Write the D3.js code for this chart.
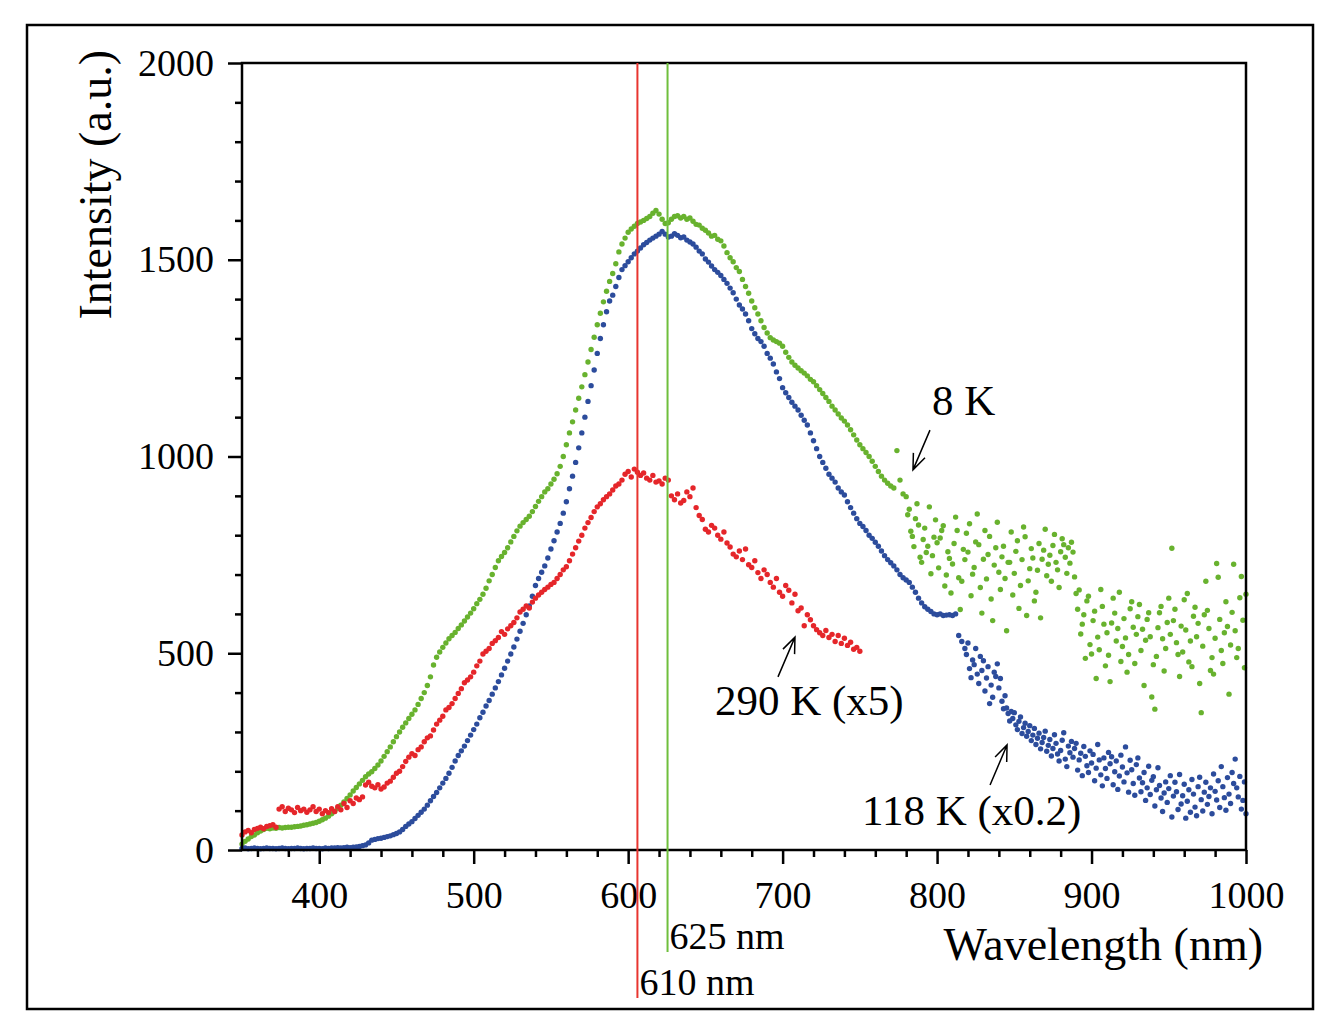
<!DOCTYPE html>
<html>
<head>
<meta charset="utf-8">
<script src="https://cdn.jsdelivr.net/npm/d3@7"></script>
<style>
  body { margin: 0; background: #fff; }
  svg { display: block; }
</style>
</head>
<body>
<div id="chart"></div>
<script>
// Photoluminescence spectra (intensity in a.u.)
// 8 K, smooth part: 350..780 nm every 2 nm
const green8KStart = 350, green8KStep = 2;
const green8K = [
  15, 22, 28, 34, 38, 44, 48, 52, 55, 54,
  56, 55, 57, 56, 57, 58, 58, 59, 60, 61,
  63, 64, 66, 68, 70, 73, 77, 81, 86, 92,
  98, 106, 114, 122, 131, 140, 150, 159, 168, 177,
  186, 193, 199, 207, 216, 226, 238, 250, 262, 275,
  288, 300, 312, 323, 334, 345, 356, 370, 385, 400,
  418, 440, 470, 490, 503, 515, 526, 537, 545, 553,
  563, 572, 582, 592, 602, 613, 626, 637, 650, 665,
  684, 700, 718, 735, 746, 756, 768, 783, 797, 811,
  823, 832, 840, 848, 860, 873, 886, 898, 910, 918,
  930, 942, 956, 975, 1000, 1030, 1060, 1088, 1118, 1148,
  1177, 1208, 1240, 1272, 1303, 1335, 1364, 1393, 1420, 1445,
  1465, 1490, 1520, 1540, 1555, 1570, 1578, 1585, 1592, 1596,
  1600, 1605, 1610, 1618, 1625, 1616, 1603, 1592, 1594, 1603,
  1610, 1612, 1606, 1610, 1603, 1606, 1598, 1590, 1588, 1580,
  1575, 1568, 1560, 1562, 1552, 1548, 1535, 1518, 1505, 1495,
  1480, 1470, 1450, 1432, 1415, 1395, 1378, 1362, 1345, 1328,
  1314, 1302, 1296, 1292, 1288, 1280, 1265, 1252, 1240, 1232,
  1225, 1218, 1212, 1205, 1196, 1190, 1180, 1170, 1160, 1150,
  1140, 1128, 1118, 1108, 1098, 1090, 1080, 1068, 1055, 1042,
  1030, 1020, 1010, 1000, 988, 975, 962, 950, 940, 932,
  925, 920, 1015, 940, 905, 898
];
// 8 K, noisy tail: 781..1000 nm every 1 nm
const green8KTailStart = 781, green8KTailStep = 1;
const green8KTail = [
  852, 866, 810, 797, 771, 842, 880, 826, 744, 731,
  789, 818, 756, 772, 872, 702, 748, 795, 839, 781,
  717, 793, 812, 824, 671, 699, 758, 741, 653, 727,
  779, 846, 812, 692, 611, 683, 764, 738, 805, 757,
  829, 646, 701, 718, 783, 854, 776, 667, 602, 739,
  812, 689, 751, 797, 638, 583, 724, 768, 833, 706,
  662, 745, 772, 690, 557, 731, 731, 808, 648, 703,
  759, 786, 614, 672, 738, 821, 796, 596, 684, 715,
  766, 742, 633, 655, 711, 779, 590, 739, 762, 815,
  697, 726, 749, 683, 774, 802, 731, 712, 667, 758,
  791, 776, 744, 703, 768, 729, 782, 757, 694, 652,
  612, 661, 549, 574, 598, 487, 633, 645, 522, 498,
  583, 607, 436, 541, 509, 662, 619, 574, 468, 552,
  495, 428, 577, 640, 602, 531, 563, 655, 479, 517,
  588, 539, 452, 497, 613, 631, 566, 474, 548, 593,
  624, 507, 561, 418, 533, 586, 603, 542, 389, 471,
  358, 492, 565, 603, 619, 537, 455, 512, 578, 640,
  548, 767, 583, 612, 527, 497, 441, 569, 503, 636,
  559, 652, 478, 531, 466, 594, 617, 542, 576, 423,
  349, 518, 598, 683, 609, 563, 456, 489, 447, 538,
  728, 693, 586, 507, 474, 552, 631, 568, 396, 521,
  604, 726, 557, 489, 512, 641, 695, 584, 463, 650
];

// 118 K (x0.2), smooth part: 350..818 nm every 2 nm
const blue118KStart = 350, blue118KStep = 2;
const blue118K = [
  4, 5, 3, 4, 5, 4, 3, 4, 5, 4,
  4, 3, 4, 5, 4, 3, 4, 4, 5, 4,
  3, 4, 4, 5, 4, 4, 3, 5, 4, 5,
  5, 6, 5, 6, 7, 6, 7, 8, 9, 11,
  13, 18, 25, 27, 29, 30, 32, 34, 36, 39,
  42, 46, 52, 60, 66, 72, 80, 88, 96, 104,
  114, 125, 136, 146, 158, 170, 182, 195, 210, 226,
  240, 252, 264, 278, 292, 306, 320, 336, 350, 366,
  380, 396, 412, 428, 445, 462, 480, 498, 516, 536,
  556, 576, 598, 620, 645, 672, 690, 706, 722, 742,
  765, 786, 808, 830, 856, 885, 918, 950, 985, 1022,
  1060, 1100, 1140, 1180, 1220, 1262, 1300, 1335, 1368, 1395,
  1410, 1432, 1455, 1475, 1485, 1495, 1505, 1515, 1522, 1530,
  1538, 1544, 1550, 1555, 1560, 1565, 1572, 1565, 1558, 1560,
  1566, 1562, 1556, 1558, 1550, 1545, 1540, 1532, 1522, 1515,
  1502, 1494, 1484, 1475, 1468, 1460, 1450, 1440, 1428, 1416,
  1400, 1385, 1375, 1362, 1345, 1325, 1312, 1300, 1292, 1280,
  1262, 1250, 1235, 1215, 1198, 1175, 1162, 1150, 1138, 1128,
  1118, 1105, 1092, 1080, 1060, 1040, 1020, 1000, 985, 970,
  955, 945, 935, 920, 910, 902, 885, 870, 856, 842,
  830, 822, 812, 800, 792, 782, 772, 760, 748, 738,
  730, 722, 712, 700, 692, 686, 680, 668, 655, 640,
  628, 618, 612, 606, 600, 598, 600, 596, 597, 598,
  596, 600, 545, 530, 512
];
// 118 K (x0.2), noisy tail: 819..1000 nm every 1 nm
const blue118KTailStart = 819, blue118KTailStep = 1;
const blue118KTail = [
  497, 526, 461, 438, 483, 471, 512, 447, 423, 492,
  456, 481, 404, 437, 466, 372, 419, 388, 452, 441,
  473, 412, 436, 378, 359, 392, 361, 347, 328, 352,
  334, 349, 318, 306, 327, 338, 296, 311, 322, 289,
  301, 316, 278, 292, 309, 268, 284, 297, 257, 273,
  286, 302, 251, 266, 281, 239, 258, 293, 271, 244,
  226, 253, 279, 298, 231, 212, 264, 247, 276, 236,
  258, 271, 203, 229, 246, 189, 263, 238, 214, 197,
  252, 221, 243, 176, 208, 268, 229, 191, 163, 234,
  207, 182, 248, 219, 237, 166, 199, 226, 154, 188,
  241, 211, 173, 262, 196, 147, 228, 204, 169, 139,
  217, 234, 183, 148, 171, 197, 126, 158, 213, 141,
  177, 186, 112, 153, 209, 164, 132, 98, 145, 173,
  121, 156, 189, 84, 137, 172, 148, 103, 192, 117,
  138, 167, 81, 124, 153, 96, 179, 142, 109, 87,
  161, 185, 128, 99, 147, 172, 116, 136, 158, 92,
  193, 149, 127, 176, 108, 212, 161, 133, 101, 184,
  142, 118, 197, 169, 231, 158, 135, 187, 104, 126,
  173, 92
];

// 290 K (x5): 350..750 nm every 2 nm
const red290KStart = 350, red290KStep = 2;
const red290K = [
  38, 46, 50, 44, 52, 55, 58, 54, 60, 62,
  64, 58, 104, 110, 98, 106, 102, 95, 108, 100,
  104, 96, 102, 110, 98, 104, 92, 100, 95, 105,
  98, 110, 102, 118, 108, 125, 118, 132, 128, 135,
  165, 172, 162, 158, 166, 155, 160, 170, 175, 185,
  195, 200, 212, 225, 236, 245, 240, 255, 262, 275,
  285, 290, 305, 320, 330, 340, 356, 362, 372, 385,
  398, 410, 425, 432, 440, 452, 468, 480, 498, 505,
  512, 525, 532, 540, 555, 548, 562, 570, 578, 590,
  605, 612, 620, 615, 630, 640, 648, 655, 662, 668,
  675, 680, 690, 700, 712, 720, 735, 752, 768, 785,
  800, 818, 832, 845, 860, 872, 880, 890, 898, 905,
  915, 925, 930, 940, 955, 962, 948, 968, 960, 952,
  958, 945, 940, 952, 935, 938, 930, 945, 940, 900,
  890, 905, 882, 888, 910, 898, 920, 870, 850, 840,
  815, 808, 825, 818, 800, 790, 808, 780, 770, 752,
  745, 760, 738, 765, 725, 718, 735, 705, 690, 712,
  700, 680, 668, 690, 655, 645, 672, 660, 628, 650,
  608, 615, 570, 598, 585, 570, 560, 552, 545, 558,
  540, 548, 530, 545, 525, 538, 520, 528, 510, 515,
  505
];

// Axis ticks
const xMajorTicks = [400, 500, 600, 700, 800, 900, 1000];
const xMinorTicks = d3.range(360, 1001, 20).filter(v => v % 100 !== 0);
const yMajorTicks = [0, 500, 1000, 1500, 2000];
const yMinorTicks = d3.range(100, 2000, 100).filter(v => v % 500 !== 0);

// Marker lines (drawn position, label)
const markerNm = [606, 625.5];
const markerLabels = ["610 nm", "625 nm"];

// Curve annotations: label, text anchor point, arrow tail, arrow head (data units)
const annLabels = ["8 K", "290 K (x5)", "118 K (x0.2)"];
const annText = [[796.7, 1105], [656.2, 343], [751.4, 64]];
const annTail = [[795.4, 1067], [697.0, 440], [834.3, 165]];
const annHead = [[784.4, 966], [708.0, 541], [845.3, 267]];

function expand(start, step, values) {
  return values.map((v, i) => ({ x: start + i * step, y: v }));
}

const greenData = expand(green8KStart, green8KStep, green8K)
  .concat(expand(green8KTailStart, green8KTailStep, green8KTail));
const blueData = expand(blue118KStart, blue118KStep, blue118K)
  .concat(expand(blue118KTailStart, blue118KTailStep, blue118KTail));
const redData = expand(red290KStart, red290KStep, red290K);

const width = 1337;
const height = 1033;
const marginLeft = 242;
const marginRight = 91;   // plot right edge at 1246
const marginTop = 63;
const marginBottom = 183; // plot bottom at 850
const font = "'Liberation Serif', 'Times New Roman', serif";

const x = d3.scaleLinear([350, 1000], [marginLeft, width - marginRight]);
const y = d3.scaleLinear([0, 2000], [height - marginBottom, marginTop]);

const svg = d3.select("#chart").append("svg")
  .attr("width", width)
  .attr("height", height)
  .attr("viewBox", [0, 0, width, height]);

// outer frame
svg.append("rect")
  .attr("x", 27).attr("y", 25)
  .attr("width", 1286).attr("height", 984)
  .attr("fill", "none")
  .attr("stroke", "#000")
  .attr("stroke-width", 2.5);

// dots
const dotSeries = [
  { data: greenData, color: "#68b22e" },
  { data: blueData, color: "#2c4c9c" },
  { data: redData, color: "#e5262a" }
];
dotSeries.forEach(s => {
  svg.append("g")
    .attr("fill", s.color)
    .selectAll("circle")
    .data(s.data)
    .join("circle")
    .attr("cx", d => x(d.x))
    .attr("cy", d => y(d.y))
    .attr("r", 2.7);
});

// plot box
svg.append("rect")
  .attr("x", x(350)).attr("y", y(2000))
  .attr("width", x(1000) - x(350))
  .attr("height", y(0) - y(2000))
  .attr("fill", "none")
  .attr("stroke", "#000")
  .attr("stroke-width", 2.5);

// axes
const styleAxis = g => {
  g.select(".domain").remove();
  g.selectAll("line").attr("stroke", "#000").attr("stroke-width", 2.5);
  g.selectAll("text").attr("font-family", font).attr("font-size", 38).attr("fill", "#000");
};

svg.append("g")
  .attr("transform", `translate(0,${y(0)})`)
  .call(d3.axisBottom(x).tickValues(xMajorTicks).tickSize(14).tickPadding(17).tickFormat(d3.format("d")))
  .call(styleAxis);
svg.append("g")
  .attr("transform", `translate(0,${y(0)})`)
  .call(d3.axisBottom(x).tickValues(xMinorTicks).tickSize(7).tickFormat(""))
  .call(styleAxis);
svg.append("g")
  .attr("transform", `translate(${x(350)},0)`)
  .call(d3.axisLeft(y).tickValues(yMajorTicks).tickSize(14).tickPadding(14).tickFormat(d3.format("d")))
  .call(styleAxis);
svg.append("g")
  .attr("transform", `translate(${x(350)},0)`)
  .call(d3.axisLeft(y).tickValues(yMinorTicks).tickSize(7).tickFormat(""))
  .call(styleAxis);

// axis titles
svg.append("text")
  .attr("x", 1263).attr("y", 960)
  .attr("text-anchor", "end")
  .attr("font-family", font).attr("font-size", 46)
  .text("Wavelength (nm)");
svg.append("text")
  .attr("transform", "translate(111,50) rotate(-90)")
  .attr("text-anchor", "end")
  .attr("font-family", font).attr("font-size", 46)
  .text("Intensity (a.u.)");

// vertical marker lines and labels
const markerColors = ["#e8352f", "#6fbf3c"];
const markerBottoms = [998, 952];
markerNm.forEach((nm, i) => {
  svg.append("line")
    .attr("x1", x(nm)).attr("x2", x(nm))
    .attr("y1", y(2000)).attr("y2", markerBottoms[i])
    .attr("stroke", markerColors[i])
    .attr("stroke-width", 2);
  svg.append("text")
    .attr("x", x(nm) + 2).attr("y", markerBottoms[i] - 3)
    .attr("font-family", font).attr("font-size", 38)
    .text(markerLabels[i]);
});

// annotations with open arrows
annLabels.forEach((label, i) => {
  svg.append("text")
    .attr("x", x(annText[i][0])).attr("y", y(annText[i][1]))
    .attr("font-family", font).attr("font-size", 43)
    .text(label);
  const x0 = x(annTail[i][0]), y0 = y(annTail[i][1]);
  const x1 = x(annHead[i][0]), y1 = y(annHead[i][1]);
  const a = Math.atan2(y1 - y0, x1 - x0);
  const len = 17, spread = 0.38;
  const w1 = [x1 - len * Math.cos(a - spread), y1 - len * Math.sin(a - spread)];
  const w2 = [x1 - len * Math.cos(a + spread), y1 - len * Math.sin(a + spread)];
  svg.append("path")
    .attr("d", `M${x0},${y0}L${x1},${y1}M${w1[0]},${w1[1]}L${x1},${y1}L${w2[0]},${w2[1]}`)
    .attr("fill", "none")
    .attr("stroke", "#000")
    .attr("stroke-width", 1.5);
});
</script>
</body>
</html>
